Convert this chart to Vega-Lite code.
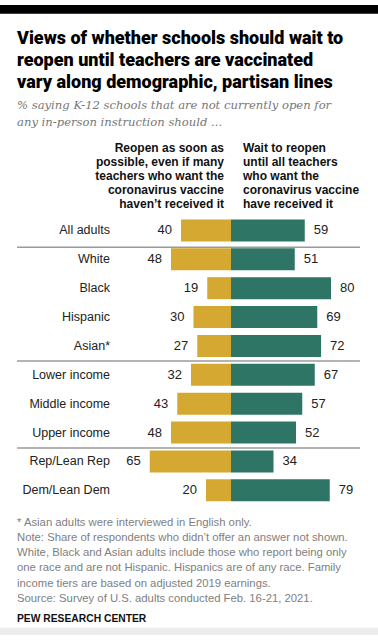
{
  "$schema": "https://vega.github.io/schema/vega-lite/v6.json",
  "width": 378,
  "height": 640,
  "autosize": {"type": "fit", "contains": "padding"},
  "padding": 0,
  "background": "white",
  "config": {"view": {"stroke": null}},
  "datasets": {
    "rows": [
      {"group": "All adults", "reopen": 40, "wait": 59, "row": 0},
      {"group": "White", "reopen": 48, "wait": 51, "row": 1},
      {"group": "Black", "reopen": 19, "wait": 80, "row": 2},
      {"group": "Hispanic", "reopen": 30, "wait": 69, "row": 3},
      {"group": "Asian*", "reopen": 27, "wait": 72, "row": 4},
      {"group": "Lower income", "reopen": 32, "wait": 67, "row": 5},
      {"group": "Middle income", "reopen": 43, "wait": 57, "row": 6},
      {"group": "Upper income", "reopen": 48, "wait": 52, "row": 7},
      {"group": "Rep/Lean Rep", "reopen": 65, "wait": 34, "row": 8},
      {"group": "Dem/Lean Dem", "reopen": 20, "wait": 79, "row": 9}
    ],
    "separators": [{"after": "All adults", "pos": 0.58}, {"after": "Asian*", "pos": 4.52}, {"after": "Upper income", "pos": 7.535}]
  },
  "resolve": {"scale": {"x": "independent"}},
  "layer": [
    {
      "data": {"values": [{}]},
      "mark": {"type": "rect", "color": "#000000"},
      "encoding": {
        "x": {"datum": -184.8, "type": "quantitative", "scale": {"domain": [-184.8, 117.6], "nice": false, "zero": false}, "axis": null},
        "x2": {"datum": 117.6},
        "y": {"datum": -7.8077, "type": "quantitative", "scale": {"domain": [-7.8077, 14.013], "reverse": true, "nice": false, "zero": false}, "axis": null},
        "y2": {"datum": -7.501}
      }
    },
    {
      "data": {"values": [{}]},
      "mark": {"type": "rect", "color": "#ededed"},
      "encoding": {
        "x": {"datum": -184.8, "type": "quantitative", "scale": {"domain": [-184.8, 117.6], "nice": false, "zero": false}, "axis": null},
        "x2": {"datum": 117.6},
        "y": {"datum": 13.76, "type": "quantitative", "scale": {"domain": [-7.8077, 14.013], "reverse": true, "nice": false, "zero": false}, "axis": null},
        "y2": {"datum": 14.013}
      }
    },
    {
      "data": {"values": [{"text": ["Views of whether schools should wait to", "reopen until teachers are vaccinated", "vary along demographic, partisan lines"]}]},
      "mark": {"type": "text", "align": "left", "baseline": "alphabetic", "font": "Roboto", "fontWeight": 900, "fontSize": 18, "lineHeight": 22, "color": "#000000"},
      "encoding": {
        "x": {"datum": -171.2, "type": "quantitative", "scale": {"domain": [-184.8, 117.6], "nice": false, "zero": false}, "axis": null},
        "y": {"datum": -6.468, "type": "quantitative", "scale": {"domain": [-7.8077, 14.013], "reverse": true, "nice": false, "zero": false}, "axis": null},
        "text": {"field": "text", "type": "nominal"}
      }
    },
    {
      "data": {"values": [{"text": ["% saying K-12 schools that are not currently open for", "any in-person instruction should ..."]}]},
      "mark": {"type": "text", "align": "left", "baseline": "alphabetic", "font": "DejaVu Serif", "fontStyle": "italic", "fontSize": 11.6, "lineHeight": 16.7, "color": "#777777"},
      "encoding": {
        "x": {"datum": -171.2, "type": "quantitative", "scale": {"domain": [-184.8, 117.6], "nice": false, "zero": false}, "axis": null},
        "y": {"datum": -4.204, "type": "quantitative", "scale": {"domain": [-7.8077, 14.013], "reverse": true, "nice": false, "zero": false}, "axis": null},
        "text": {"field": "text", "type": "nominal"}
      }
    },
    {
      "data": {"values": [{"text": ["Reopen as soon as", "possible, even if many", "teachers who want the", "coronavirus vaccine", "haven’t received it"]}]},
      "mark": {"type": "text", "align": "right", "baseline": "alphabetic", "font": "Liberation Sans", "fontWeight": "bold", "fontSize": 12, "lineHeight": 14.2, "color": "#111111"},
      "encoding": {
        "x": {"datum": -5.6, "type": "quantitative", "scale": {"domain": [-184.8, 117.6], "nice": false, "zero": false}, "axis": null},
        "y": {"datum": -2.728, "type": "quantitative", "scale": {"domain": [-7.8077, 14.013], "reverse": true, "nice": false, "zero": false}, "axis": null},
        "text": {"field": "text", "type": "nominal"}
      }
    },
    {
      "data": {"values": [{"text": ["Wait to reopen", "until all teachers", "who want the", "coronavirus vaccine", "have received it"]}]},
      "mark": {"type": "text", "align": "left", "baseline": "alphabetic", "font": "Liberation Sans", "fontWeight": "bold", "fontSize": 12, "lineHeight": 14.2, "color": "#111111"},
      "encoding": {
        "x": {"datum": 9.6, "type": "quantitative", "scale": {"domain": [-184.8, 117.6], "nice": false, "zero": false}, "axis": null},
        "y": {"datum": -2.728, "type": "quantitative", "scale": {"domain": [-7.8077, 14.013], "reverse": true, "nice": false, "zero": false}, "axis": null},
        "text": {"field": "text", "type": "nominal"}
      }
    },
    {
      "data": {"name": "separators"},
      "mark": {"type": "rule", "color": "#9a9a9a", "strokeWidth": 1.5},
      "encoding": {
        "x": {"datum": -171.2, "type": "quantitative", "scale": {"domain": [-184.8, 117.6], "nice": false, "zero": false}, "axis": null},
        "x2": {"datum": 103.2},
        "y": {"field": "pos", "type": "quantitative", "scale": {"domain": [-7.8077, 14.013], "reverse": true, "nice": false, "zero": false}, "axis": null}
      }
    },
    {
      "data": {"name": "rows"},
      "mark": {"type": "bar", "orient": "horizontal", "height": 22, "color": "#D4A831"},
      "encoding": {
        "x": {"field": "reopen", "type": "quantitative", "scale": {"domain": [-117.6, 184.8], "reverse": true, "nice": false, "zero": false}, "axis": null},
        "x2": {"datum": 0},
        "y": {"field": "row", "type": "quantitative", "scale": {"domain": [-7.8077, 14.013], "reverse": true, "nice": false, "zero": false}, "axis": null}
      }
    },
    {
      "data": {"name": "rows"},
      "mark": {"type": "bar", "orient": "horizontal", "height": 22, "color": "#2F7566"},
      "encoding": {
        "x": {"field": "wait", "type": "quantitative", "scale": {"domain": [-184.8, 117.6], "nice": false, "zero": false}, "axis": null},
        "x2": {"datum": 0},
        "y": {"field": "row", "type": "quantitative", "scale": {"domain": [-7.8077, 14.013], "reverse": true, "nice": false, "zero": false}, "axis": null}
      }
    },
    {
      "data": {"name": "rows"},
      "mark": {"type": "text", "align": "right", "baseline": "middle", "dx": -9, "font": "Liberation Sans", "fontSize": 13, "color": "#222222"},
      "encoding": {
        "x": {"field": "reopen", "type": "quantitative", "scale": {"domain": [-117.6, 184.8], "reverse": true, "nice": false, "zero": false}, "axis": null},
        "y": {"field": "row", "type": "quantitative", "scale": {"domain": [-7.8077, 14.013], "reverse": true, "nice": false, "zero": false}, "axis": null},
        "text": {"field": "reopen", "type": "quantitative"}
      }
    },
    {
      "data": {"name": "rows"},
      "mark": {"type": "text", "align": "left", "baseline": "middle", "dx": 9, "font": "Liberation Sans", "fontSize": 13, "color": "#222222"},
      "encoding": {
        "x": {"field": "wait", "type": "quantitative", "scale": {"domain": [-184.8, 117.6], "nice": false, "zero": false}, "axis": null},
        "y": {"field": "row", "type": "quantitative", "scale": {"domain": [-7.8077, 14.013], "reverse": true, "nice": false, "zero": false}, "axis": null},
        "text": {"field": "wait", "type": "quantitative"}
      }
    },
    {
      "data": {"name": "rows"},
      "mark": {"type": "text", "align": "right", "baseline": "middle", "font": "Liberation Sans", "fontSize": 12.5, "color": "#222222"},
      "encoding": {
        "x": {"datum": -96.8, "type": "quantitative", "scale": {"domain": [-184.8, 117.6], "nice": false, "zero": false}, "axis": null},
        "y": {"field": "row", "type": "quantitative", "scale": {"domain": [-7.8077, 14.013], "reverse": true, "nice": false, "zero": false}, "axis": null},
        "text": {"field": "group", "type": "nominal"}
      }
    },
    {
      "data": {"values": [{"text": ["* Asian adults were interviewed in English only.", "Note: Share of respondents who didn’t offer an answer not shown.", "White, Black and Asian adults include those who report being only", "one race and are not Hispanic. Hispanics are of any race. Family", "income tiers are based on adjusted 2019 earnings.", "Source: Survey of U.S. adults conducted Feb. 16-21, 2021."]}]},
      "mark": {"type": "text", "align": "left", "baseline": "alphabetic", "font": "Liberation Sans", "fontSize": 11.3, "lineHeight": 15.2, "color": "#808080"},
      "encoding": {
        "x": {"datum": -171.2, "type": "quantitative", "scale": {"domain": [-184.8, 117.6], "nice": false, "zero": false}, "axis": null},
        "y": {"datum": 10.228, "type": "quantitative", "scale": {"domain": [-7.8077, 14.013], "reverse": true, "nice": false, "zero": false}, "axis": null},
        "text": {"field": "text", "type": "nominal"}
      }
    },
    {
      "data": {"values": [{"text": "PEW RESEARCH CENTER"}]},
      "mark": {"type": "text", "align": "left", "baseline": "alphabetic", "font": "Liberation Sans", "fontWeight": "bold", "fontSize": 10.3, "color": "#111111"},
      "encoding": {
        "x": {"datum": -171.2, "type": "quantitative", "scale": {"domain": [-184.8, 117.6], "nice": false, "zero": false}, "axis": null},
        "y": {"datum": 13.56, "type": "quantitative", "scale": {"domain": [-7.8077, 14.013], "reverse": true, "nice": false, "zero": false}, "axis": null},
        "text": {"field": "text", "type": "nominal"}
      }
    }
  ]
}
